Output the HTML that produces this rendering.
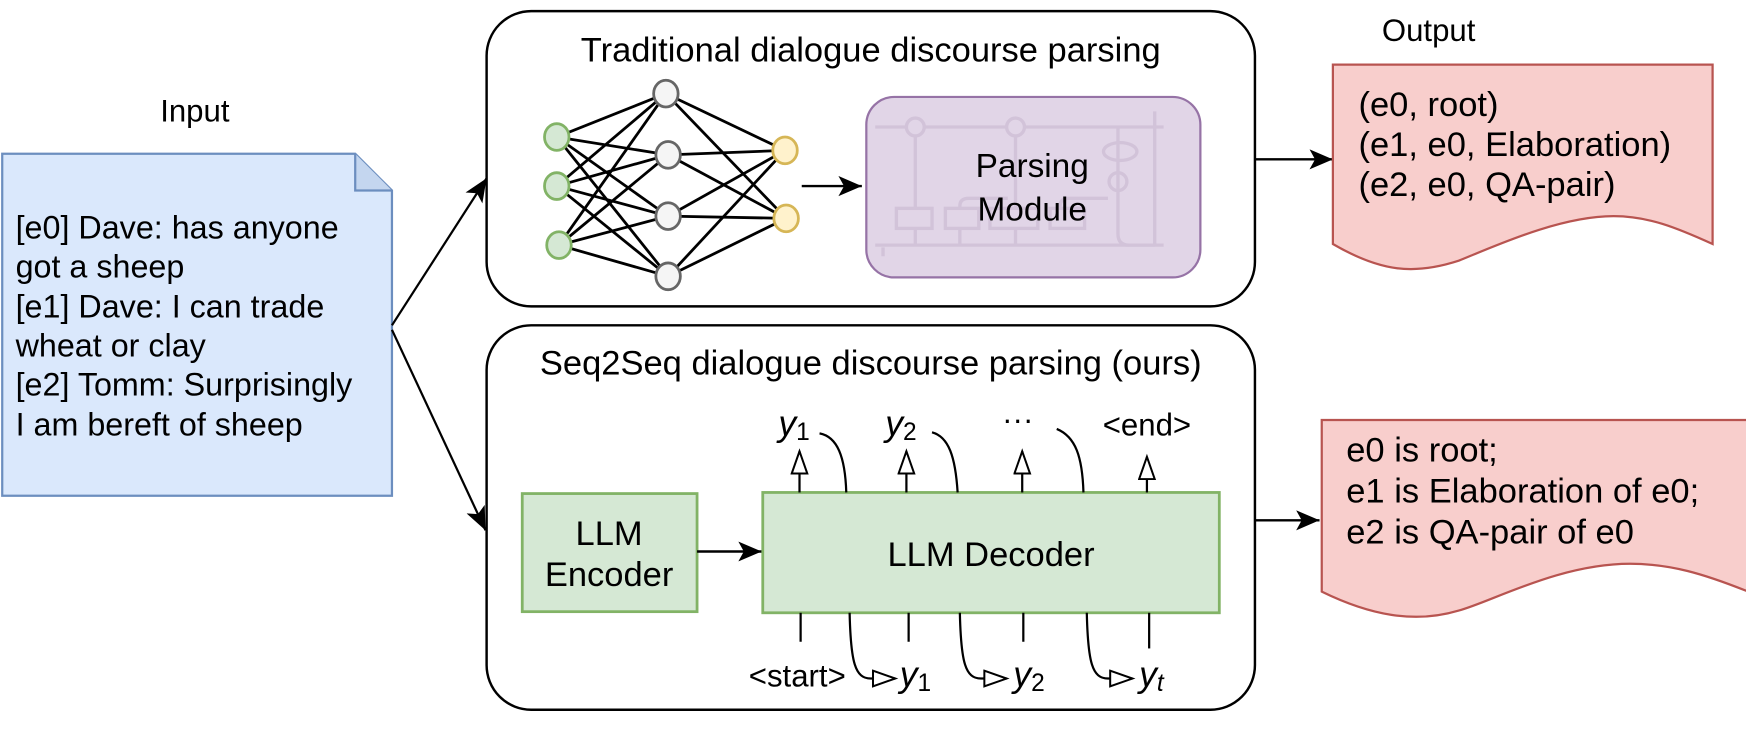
<!DOCTYPE html>
<html><head><meta charset="utf-8"><style>
html,body{margin:0;padding:0;background:#fff;}
svg{display:block;}
text{font-family:"Liberation Sans",sans-serif;fill:#000;}
</style></head><body>
<svg width="1746" height="732" viewBox="0 0 1568 657" preserveAspectRatio="none" xmlns="http://www.w3.org/2000/svg">
<defs>
<marker id="ah2" markerWidth="24" markerHeight="22" refX="21" refY="9" orient="auto" markerUnits="userSpaceOnUse"><path d="M0,0 L21,9 L0,18 L5,9 Z" fill="#000"/></marker>
<marker id="ho" markerWidth="26" markerHeight="20" refX="21" refY="8" orient="auto" markerUnits="userSpaceOnUse"><path d="M1,1 L21,8 L1,15 Z" fill="#fff" stroke="#000" stroke-width="1.8"/></marker>
</defs>

<!-- Input -->
<text x="175" y="109" font-size="28" text-anchor="middle">Input</text>
<path d="M2,138 H319 L352,171 V445 H2 Z" fill="#dae8fc" stroke="#6c8ebf" stroke-width="2"/>
<path d="M319,138 V171 H352" fill="#c4d6ef" stroke="#6c8ebf" stroke-width="2"/>
<g font-size="29">
<text x="14" y="214">[e0] Dave: has anyone</text>
<text x="14" y="249">got a sheep</text>
<text x="14" y="285">[e1] Dave: I can trade</text>
<text x="14" y="320">wheat or clay</text>
<text x="14" y="355">[e2] Tomm: Surprisingly</text>
<text x="14" y="391">I am bereft of sheep</text>
</g>
<line x1="352" y1="292" x2="437" y2="160" stroke="#000" stroke-width="2" marker-end="url(#ah2)"/>
<line x1="352" y1="296" x2="436" y2="476" stroke="#000" stroke-width="2" marker-end="url(#ah2)"/>

<!-- Top box -->
<rect x="437" y="10" width="690" height="265" rx="40" fill="#fff" stroke="#000" stroke-width="2.2"/>
<text x="782" y="55" font-size="31" text-anchor="middle">Traditional dialogue discourse parsing</text>
<g stroke="#000" stroke-width="2.5">
<line x1="500" y1="123" x2="598" y2="84"/><line x1="500" y1="123" x2="600" y2="139"/><line x1="500" y1="123" x2="600" y2="194"/><line x1="500" y1="123" x2="600" y2="248"/>
<line x1="500" y1="167" x2="598" y2="84"/><line x1="500" y1="167" x2="600" y2="139"/><line x1="500" y1="167" x2="600" y2="194"/><line x1="500" y1="167" x2="600" y2="248"/>
<line x1="502" y1="220" x2="598" y2="84"/><line x1="502" y1="220" x2="600" y2="139"/><line x1="502" y1="220" x2="600" y2="194"/><line x1="502" y1="220" x2="600" y2="248"/>
<line x1="598" y1="84" x2="705" y2="135"/><line x1="598" y1="84" x2="706" y2="196"/>
<line x1="600" y1="139" x2="705" y2="135"/><line x1="600" y1="139" x2="706" y2="196"/>
<line x1="600" y1="194" x2="705" y2="135"/><line x1="600" y1="194" x2="706" y2="196"/>
<line x1="600" y1="248" x2="705" y2="135"/><line x1="600" y1="248" x2="706" y2="196"/>
</g>
<g stroke-width="2.5">
<ellipse cx="500" cy="123" rx="11" ry="12" fill="#d5e8d4" stroke="#82b366"/>
<ellipse cx="500" cy="167" rx="11" ry="12" fill="#d5e8d4" stroke="#82b366"/>
<ellipse cx="502" cy="220" rx="11" ry="12" fill="#d5e8d4" stroke="#82b366"/>
<ellipse cx="598" cy="84" rx="11" ry="12" fill="#f5f5f5" stroke="#666"/>
<ellipse cx="600" cy="139" rx="11" ry="12" fill="#f5f5f5" stroke="#666"/>
<ellipse cx="600" cy="194" rx="11" ry="12" fill="#f5f5f5" stroke="#666"/>
<ellipse cx="600" cy="248" rx="11" ry="12" fill="#f5f5f5" stroke="#666"/>
<ellipse cx="705" cy="135" rx="11" ry="12" fill="#fff2cc" stroke="#d6b656"/>
<ellipse cx="706" cy="196" rx="11" ry="12" fill="#fff2cc" stroke="#d6b656"/>
</g>
<line x1="720" y1="167" x2="774" y2="167" stroke="#000" stroke-width="2.2" marker-end="url(#ah2)"/>
<rect x="778" y="87" width="300" height="162" rx="25" fill="#e1d5e7" stroke="#9673a6" stroke-width="2"/>
<g stroke="#d2c3d9" stroke-width="3" fill="none">
<line x1="786" y1="114" x2="1045" y2="114"/><line x1="786" y1="220" x2="1045" y2="220"/>
<line x1="822" y1="122" x2="822" y2="220"/><line x1="912" y1="122" x2="912" y2="220"/>
<path d="M862,220 V185 Q862,178 870,178 H905 M952,205 V185 Q952,178 960,178 H995"/>
<circle cx="822" cy="114" r="8" fill="#e1d5e7"/><circle cx="912" cy="114" r="8" fill="#e1d5e7"/><circle cx="1004" cy="163" r="8" fill="#e1d5e7"/>
<ellipse cx="1006" cy="136" rx="15" ry="8" fill="#e1d5e7"/>
<rect x="805" y="187" width="32" height="18" fill="#e1d5e7"/><rect x="849" y="187" width="30" height="18" fill="#e1d5e7"/><rect x="889" y="187" width="43" height="18" fill="#e1d5e7"/><rect x="943" y="187" width="31" height="18" fill="#e1d5e7"/>
<path d="M1004,114 V210 Q1004,220 1014,220 H1037 M1037,100 V220 M793,230 V222"/>
</g>
<text x="927" y="159" font-size="30" text-anchor="middle">Parsing</text>
<text x="927" y="198" font-size="30" text-anchor="middle">Module</text>
<line x1="1127" y1="143" x2="1197" y2="143" stroke="#000" stroke-width="2.2" marker-end="url(#ah2)"/>

<!-- Output top -->
<text x="1283" y="37" font-size="28" text-anchor="middle">Output</text>
<path d="M1197,58 H1538 V219 C1505,204 1480,194 1449,194 C1400,194 1340,222 1310,234 C1270,247 1240,244 1197,219 Z" fill="#f8cecc" stroke="#b85450" stroke-width="2"/>
<g font-size="31">
<text x="1220" y="104">(e0, root)</text>
<text x="1220" y="140">(e1, e0, Elaboration)</text>
<text x="1220" y="176">(e2, e0, QA-pair)</text>
</g>

<!-- Bottom box -->
<rect x="437" y="292" width="690" height="345" rx="40" fill="#fff" stroke="#000" stroke-width="2.2"/>
<text x="782" y="336" font-size="31" text-anchor="middle">Seq2Seq dialogue discourse parsing (ours)</text>
<rect x="469" y="443" width="157" height="106" fill="#d5e8d4" stroke="#82b366" stroke-width="2.5"/>
<text x="547" y="489" font-size="31" text-anchor="middle">LLM</text>
<text x="547" y="526" font-size="31" text-anchor="middle">Encoder</text>
<line x1="626" y1="495" x2="684" y2="495" stroke="#000" stroke-width="2.2" marker-end="url(#ah2)"/>
<rect x="685" y="442" width="410" height="108" fill="#d5e8d4" stroke="#82b366" stroke-width="2.5"/>
<text x="890" y="508" font-size="31" text-anchor="middle">LLM Decoder</text>

<g stroke="#000" stroke-width="2" fill="none">
<line x1="718" y1="442" x2="718" y2="405" marker-end="url(#ho)"/>
<line x1="814" y1="442" x2="814" y2="405" marker-end="url(#ho)"/>
<line x1="918" y1="442" x2="918" y2="405" marker-end="url(#ho)"/>
<line x1="1030" y1="442" x2="1030" y2="410" marker-end="url(#ho)"/>
<path d="M736,389 C752,392 759,410 760,442"/>
<path d="M837,388 C852,392 858,410 860,442"/>
<path d="M949,385 C966,392 972,410 973,442"/>
<line x1="719" y1="550" x2="719" y2="576"/>
<line x1="816" y1="550" x2="816" y2="576"/>
<line x1="919" y1="550" x2="919" y2="576"/>
<line x1="1032" y1="550" x2="1032" y2="582"/>
<path d="M763,550 C764,595 768,609 782,609 L804,609" marker-end="url(#ho)"/>
<path d="M862,550 C863,595 867,609 881,609 L904,609" marker-end="url(#ho)"/>
<path d="M976,550 C977,595 981,609 995,609 L1017,609" marker-end="url(#ho)"/>
</g>
<g>
<text x="699" y="391" font-family="Liberation Serif" font-style="italic" font-size="32">y<tspan font-style="normal" font-size="22" dy="4">1</tspan></text>
<text x="795" y="391" font-family="Liberation Serif" font-style="italic" font-size="32">y<tspan font-style="normal" font-size="22" dy="4">2</tspan></text>
<text x="914" y="386" font-size="28" text-anchor="middle">···</text>
<text x="1030" y="391" font-size="28" text-anchor="middle">&lt;end&gt;</text>
<text x="716" y="616" font-size="28" text-anchor="middle">&lt;start&gt;</text>
<text x="808" y="616" font-family="Liberation Serif" font-style="italic" font-size="32">y<tspan font-style="normal" font-size="22" dy="4">1</tspan></text>
<text x="910" y="616" font-family="Liberation Serif" font-style="italic" font-size="32">y<tspan font-style="normal" font-size="22" dy="4">2</tspan></text>
<text x="1023" y="616" font-family="Liberation Serif" font-style="italic" font-size="32">y<tspan font-size="22" dy="4">t</tspan></text>
</g>
<line x1="1127" y1="467" x2="1185" y2="467" stroke="#000" stroke-width="2.2" marker-end="url(#ah2)"/>

<!-- Output bottom -->
<path d="M1187,377 H1570 V531 C1530,515 1500,506 1464,506 C1400,506 1340,540 1310,548 C1270,560 1230,552 1187,531 Z" fill="#f8cecc" stroke="#b85450" stroke-width="2"/>
<g font-size="31">
<text x="1209" y="414">e0 is root;</text>
<text x="1209" y="451">e1 is Elaboration of e0;</text>
<text x="1209" y="488">e2 is QA-pair of e0</text>
</g>
</svg>
</body></html>
